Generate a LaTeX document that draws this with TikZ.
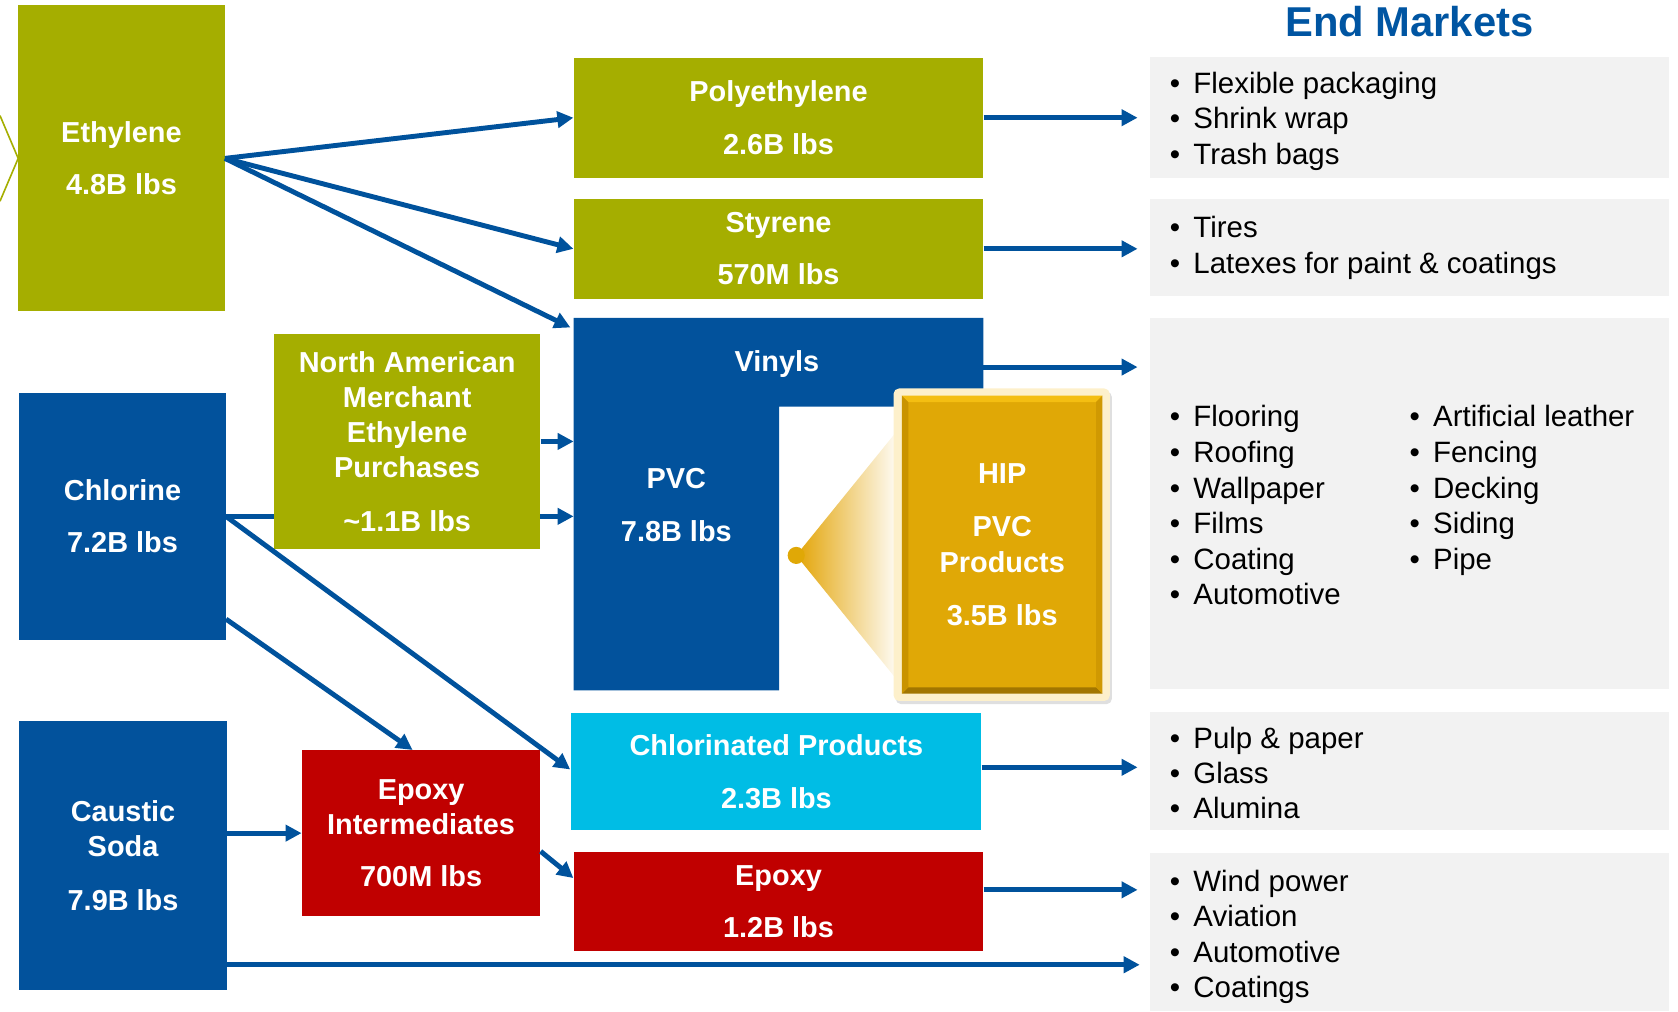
\documentclass[tikz,border=0pt]{standalone}
\usepackage{fontspec}
\setmainfont{Liberation Sans}
\usetikzlibrary{arrows.meta,calc,shadows}
\definecolor{olive}{HTML}{A5AE00}
\definecolor{navy}{HTML}{02529C}
\definecolor{redbox}{HTML}{C00000}
\definecolor{cyanbox}{HTML}{00BDE5}
\definecolor{gold}{HTML}{E0A806}
\definecolor{goldlight}{HTML}{F4BE12}
\definecolor{goldmid}{HTML}{C99300}
\definecolor{golddark}{HTML}{A27600}
\definecolor{cream}{HTML}{FDF0CB}
\definecolor{graybox}{HTML}{F2F2F2}
\definecolor{arrowblue}{HTML}{00529C}
\definecolor{titleblue}{HTML}{0055A2}
\newcommand\bul{\makebox[22pt][l]{•}}
\begin{document}
\begin{tikzpicture}[x=1pt,y=-1pt,
  box/.style={inner sep=0pt, text=white, font=\bfseries\fontsize{27}{33}\selectfont, align=center,
    execute at begin node={\rule{0pt}{24.5pt}}},
  flow/.style={draw=arrowblue, line width=4.6pt, -{Triangle[length=15pt,width=15pt]}},
  item/.style={anchor=base west, inner sep=0pt, font=\fontsize{27.5}{33}\selectfont},
  market/.style={fill=graybox}]
\useasboundingbox (0,0) rectangle (1568,945);

% end market panels
\fill[market] (1075,53) rectangle (1560,166);
\fill[market] (1075,186) rectangle (1560,277);
\fill[market] (1075,297) rectangle (1560,644);
\fill[market] (1075,665) rectangle (1560,776);
\fill[market] (1075,797) rectangle (1560,945);

\node[font=\bfseries\fontsize{39}{44}\selectfont, text=titleblue, inner sep=0pt] (title) at (1317,20) {End Markets};

\foreach \t [count=\i from 0] in {Flexible packaging, Shrink wrap, Trash bags}
  \node[item] (ma\i) at (1093,{87.5+33*\i}) {\bul\t};
\foreach \t [count=\i from 0] in {Tires, Latexes for paint \& coatings}
  \node[item] (mb\i) at (1093,{222+33.5*\i}) {\bul\t};
\foreach \t [count=\i from 0] in {Flooring, Roofing, Wallpaper, Films, Coating, Automotive}
  \node[item] (mc\i) at (1093,{399+33.2*\i}) {\bul\t};
\foreach \t [count=\i from 0] in {Artificial leather, Fencing, Decking, Siding, Pipe}
  \node[item] (md\i) at (1317,{399+33.2*\i}) {\bul\t};
\foreach \t [count=\i from 0] in {Pulp \& paper, Glass, Alumina}
  \node[item] (me\i) at (1093,{699+33*\i}) {\bul\t};
\foreach \t [count=\i from 0] in {Wind power, Aviation, Automotive, Coatings}
  \node[item] (mf\i) at (1093,{833+33*\i}) {\bul\t};

% left chevron
\draw[olive, line width=1.5pt] (0,108) -- (17,148) -- (0,188);

% coordinates
\coordinate (mkx) at (1063,0);
\coordinate (vin-nw) at (536,297);
\coordinate (vtip) at (533,306);
\coordinate (vin-out) at (919,343);

% chlorine line passing behind NAM box
\node[inner sep=0pt, minimum width=193pt, minimum height=231pt] (chl) at (114.5,482.5) {};
\draw[flow] (chl.east) -- (chl.east -| vin-nw);

% boxes
\node[box, fill=olive, minimum width=193pt, minimum height=286pt] (eth) at (113.5,148) {Ethylene\\[16pt]4.8B lbs};
\node[box, fill=olive, minimum width=383pt, minimum height=112pt] (poly) at (727.5,110) {Polyethylene\\[16pt]2.6B lbs};
\node[box, fill=olive, minimum width=383pt, minimum height=93pt] (sty) at (727.5,232.5) {Styrene\\[16pt]570M lbs};
\node[box, fill=olive, minimum width=249pt, minimum height=201pt] (nam) at (380.5,412.5) {North American\\Merchant\\Ethylene\\Purchases\\[17pt]\textasciitilde1.1B lbs};
\node[box, fill=navy, minimum width=193pt, minimum height=231pt] at (chl) {Chlorine\\[16pt]7.2B lbs};
\node[box, fill=navy, minimum width=194pt, minimum height=251pt] (cau) at (115,799.5) {Caustic\\Soda\\[17pt]7.9B lbs};
\node[box, fill=redbox, minimum width=223pt, minimum height=155pt] (epi) at (393.5,778.5) {Epoxy\\Intermediates\\[16pt]700M lbs};
\node[box, fill=cyanbox, minimum width=383pt, minimum height=110pt] (chp) at (725.5,721) {Chlorinated Products\\[16pt]2.3B lbs};
\node[box, fill=redbox, minimum width=383pt, minimum height=93pt] (epo) at (727.5,842.5) {Epoxy\\[15pt]1.2B lbs};

% vinyls L-shape
\fill[navy] (vin-nw) -- (919,297) -- (919,380) -- (728,380) -- (728,645) -- (536,645) -- cycle;
\node[box] (vinyls) at (726,338) {Vinyls};
\node[box] (pvc) at (632,472) {PVC\\[16pt]7.8B lbs};

% HIP callout
\shade[left color=gold!90!orange, right color=white] (744,519) -- (842,398) -- (842,640) -- cycle;
\fill[gold] (744,519) circle (8pt);
\fill[cream, rounded corners=5pt, drop shadow={shadow xshift=2pt, shadow yshift=-3pt, opacity=0.25}] (835,363) rectangle (1037,655);
\node[fill=gold, minimum width=187pt, minimum height=278pt, inner sep=0pt] (hip) at (936.5,509) {};
\fill[goldlight] (hip.north west) -- (hip.north east) -- ++(-6,6) -- ($(hip.north west)+(6,6)$) -- cycle;
\fill[golddark] (hip.south west) -- (hip.south east) -- ++(-6,-6) -- ($(hip.south west)+(6,-6)$) -- cycle;
\fill[goldmid] (hip.north west) -- ++(6,6) -- ($(hip.south west)+(6,-6)$) -- (hip.south west) -- cycle;
\fill[goldmid!70!gold] (hip.north east) -- ++(-6,6) -- ($(hip.south east)+(-6,-6)$) -- (hip.south east) -- cycle;
\node[box] (hiptext) at (hip) {HIP\\[17pt]PVC\\Products\\[17pt]3.5B lbs};

% connectors
\draw[flow] (eth.east) -- (poly.west);
\draw[flow] (eth.east) -- (sty.west);
\draw[flow] (eth.east) -- (vtip);
\draw[flow] (nam.east) -- (nam.east -| vin-nw);
\draw[flow] (chl.east) -- ($(chp.west)+(-1,-2)$);
\draw[flow] ($(chl.east)+(0,96)$) -- ($(epi.north)+(-8,0)$);
\draw[flow] (cau.east |- epi.west) -- (epi.west);
\draw[flow] ($(epi.east)+(0,17)$) -- ($(epo.west)+(0,-22)$);

\draw[flow] (poly.east) -- (poly.east -| mkx);
\draw[flow] (sty.east) -- (sty.east -| mkx);
\draw[flow] (vin-out) -- (vin-out -| mkx);
\draw[flow] ($(chp.east)+(0,-4)$) -- ($(chp.east -| mkx)+(0,-4)$);
\draw[flow] ($(epo.east)+(0,-11)$) -- ($(epo.east -| mkx)+(0,-11)$);
\draw[flow] ($(cau.east)+(0,102)$) -- ($(cau.east -| mkx)+(2,102)$);
\end{tikzpicture}
\end{document}
